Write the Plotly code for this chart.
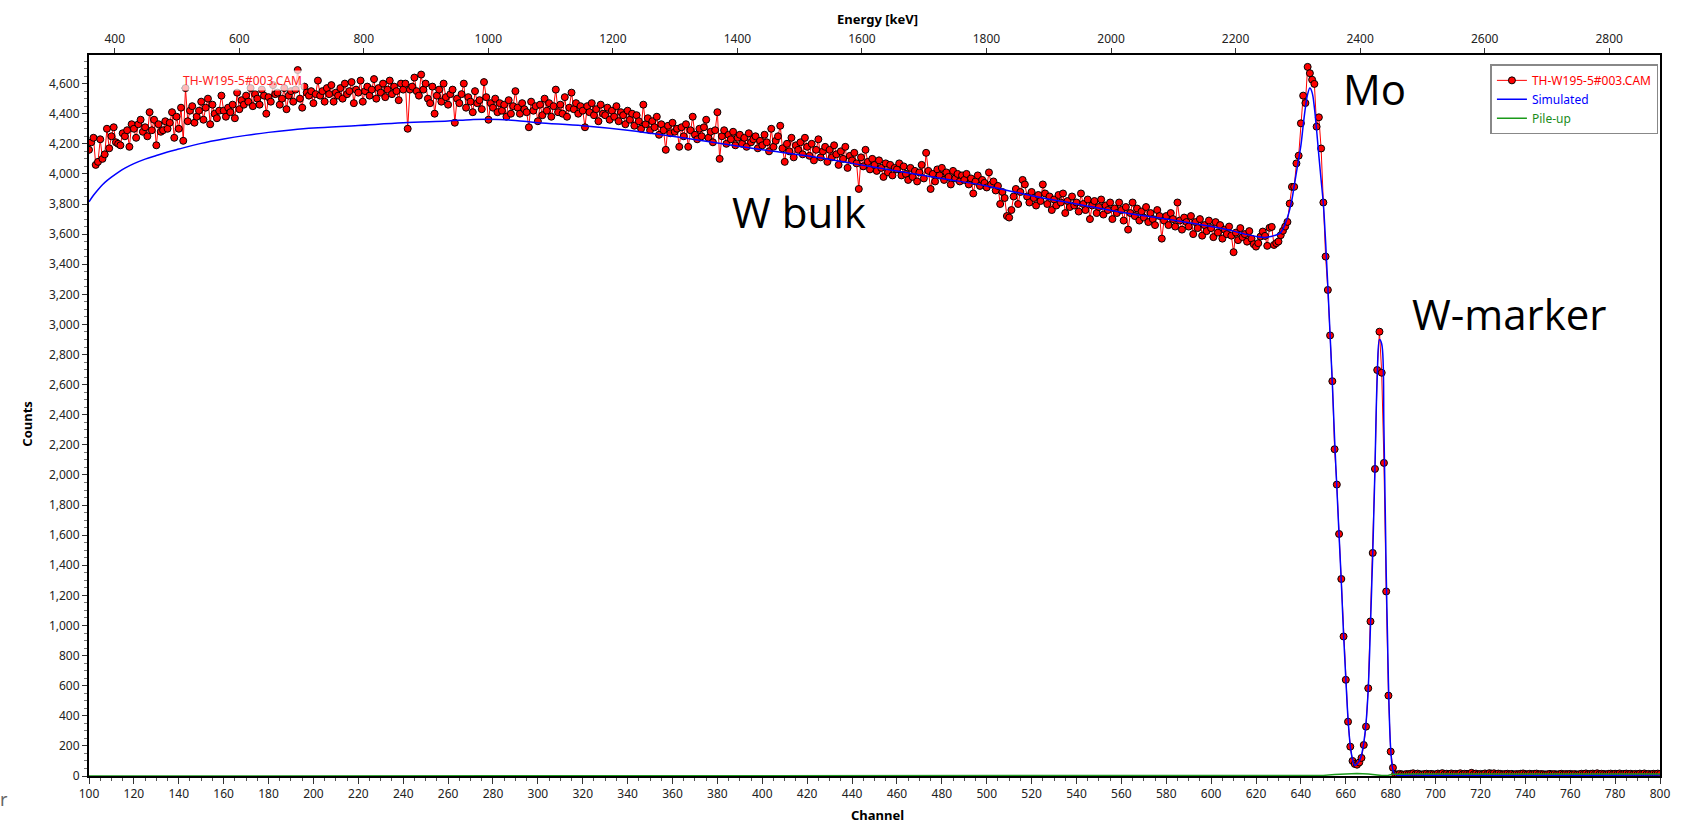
import plotly.graph_objects as go

# ---------------- data ----------------
channels = list(range(100, 801))

counts_bulk = [
    4160, 4210, 4240, 4060, 4080, 4230, 4100, 4130, 4300, 4170,
    4250, 4310, 4210, 4200, 4190, 4270, 4250, 4290, 4180, 4330,
    4300, 4240, 4330, 4360, 4280, 4310, 4250, 4410, 4290, 4360,
    4190, 4330, 4280, 4290, 4350, 4300, 4340, 4410, 4240, 4380,
    4300, 4440, 4220, 4570, 4350, 4420, 4450, 4340, 4380, 4420,
    4480, 4360, 4440, 4500, 4330, 4460, 4400, 4370, 4420, 4520,
    4420, 4380, 4440, 4410, 4460, 4370, 4540, 4430, 4490, 4460,
    4520, 4480, 4570, 4450, 4530, 4500, 4460, 4560, 4520, 4400,
    4510, 4480, 4590, 4530, 4540, 4460, 4500, 4570, 4430, 4520,
    4550, 4480, 4560, 4690, 4500, 4440, 4580, 4540, 4520, 4550,
    4470, 4530, 4620, 4520, 4550, 4480, 4570, 4530, 4590, 4480,
    4540, 4520, 4570, 4500, 4600, 4530, 4550, 4610, 4470, 4560,
    4540, 4620, 4480, 4550, 4580, 4520, 4560, 4630, 4500, 4570,
    4540, 4600, 4510, 4560, 4620, 4530, 4580, 4550, 4490, 4600,
    4560, 4600, 4300, 4560, 4580, 4640, 4550, 4520, 4660, 4560,
    4600, 4500, 4470, 4580, 4400, 4520, 4560, 4480, 4600, 4510,
    4460, 4530, 4560, 4340, 4500, 4470, 4530, 4600, 4440, 4510,
    4480, 4410, 4550, 4470, 4490, 4430, 4610, 4510, 4360, 4470,
    4440, 4500, 4410, 4470, 4420, 4460, 4380, 4490, 4400, 4450,
    4550, 4440, 4400, 4470, 4430, 4410, 4310, 4480, 4420, 4450,
    4350, 4460, 4390, 4500, 4420, 4470, 4380, 4450, 4560, 4410,
    4460, 4400, 4510, 4380, 4440, 4540, 4430, 4470, 4400, 4450,
    4420, 4310, 4450, 4410, 4470, 4390, 4430, 4350, 4460, 4400,
    4390, 4440, 4360, 4420, 4380, 4450, 4350, 4410, 4390, 4330,
    4420, 4360, 4400, 4320, 4390, 4350, 4300, 4460, 4330, 4370,
    4290, 4350, 4310, 4380, 4260, 4330, 4290, 4160, 4320, 4270,
    4340, 4280, 4300, 4180, 4310, 4250, 4330, 4180, 4290, 4380,
    4260, 4230, 4300, 4250, 4310, 4360, 4240, 4280, 4210, 4290,
    4410, 4100, 4250, 4290, 4200, 4260, 4230, 4280, 4190, 4240,
    4260, 4200, 4240, 4180, 4270, 4210, 4230, 4250, 4170, 4220,
    4190, 4260, 4210, 4150, 4300, 4180, 4220, 4250, 4320, 4170,
    4080, 4200, 4150, 4240, 4110, 4190, 4160, 4210, 4130, 4240,
    4180, 4120, 4200, 4090, 4160, 4230, 4110, 4150, 4180, 4080,
    4160, 4110, 4190, 4130, 4060, 4150, 4100, 4180, 4040, 4120,
    4090, 4140, 4070, 3900, 4110, 4050, 4160, 4080, 4030, 4100,
    4060, 4020, 4090, 4040, 3980, 4070, 4010, 4060, 3990, 4040,
    4030, 4070, 3990, 4050, 4000, 3960, 4040, 3980, 4020, 3950,
    4010, 4060, 3970, 4140, 4020, 3900, 4000, 3950, 4030, 3990,
    4040, 3960, 4010, 3980, 3930, 4020, 3970, 4000, 3950, 3990,
    3960, 4000, 3930, 3970, 3870, 3950, 3990, 3920, 3960, 3940,
    3910, 4010, 3930, 3950, 3890, 3920, 3800, 3880, 3840, 3720,
    3710, 3760, 3850, 3900, 3800, 3880, 3960, 3930, 3850, 3810,
    3880, 3840, 3790, 3860, 3820, 3930, 3870, 3800, 3850, 3760,
    3830, 3790, 3860, 3810, 3870, 3740, 3820, 3780, 3850, 3790,
    3810, 3750, 3870, 3800, 3760, 3830, 3700, 3790, 3820, 3740,
    3780, 3830, 3730, 3790, 3760, 3810, 3700, 3770, 3740, 3810,
    3760, 3690, 3780, 3630, 3740, 3810, 3720, 3770, 3690, 3750,
    3710, 3780, 3680, 3740, 3700, 3660, 3760, 3720, 3570, 3690,
    3720, 3660, 3740, 3700, 3650, 3810, 3690, 3630, 3710, 3680,
    3650, 3720, 3600, 3680, 3640, 3700, 3590, 3660, 3620, 3690,
    3640, 3580, 3680, 3610, 3660, 3570, 3630, 3600, 3650, 3590,
    3480, 3610, 3560, 3640, 3580, 3600, 3550, 3620, 3570,
]

counts_peaks = [
    3533, 3517, 3540, 3584, 3617, 3588, 3522, 3642, 3648, 3528,
    3540, 3551, 3593, 3622, 3650, 3681, 3803, 3914, 3914, 4070,
    4121, 4336, 4520, 4471, 4711, 4669, 4626, 4598, 4314, 4376,
    4169, 3810, 3451, 3229, 2927, 2623, 2171, 1936, 1608, 1309,
    927, 639, 361, 195, 100, 80, 75, 90, 120, 206,
    328, 583, 1027, 1482, 2040, 2697, 2952, 2679, 2080, 1226,
    534, 162, 55,
]

counts_tail = [
    12, 10, 14, 11, 9, 13, 12, 15,
    18, 11, 16, 12, 10, 13, 15, 11, 14, 12,
    10, 16, 13, 19, 12, 15, 11, 17, 13, 14,
    12, 18, 11, 15, 14, 13, 21, 12, 16, 11,
    14, 12, 17, 13, 19, 15, 18, 12, 16, 14,
    11, 13, 15, 12, 14, 10, 13, 12, 15, 17,
    13, 11, 15, 12, 14, 16, 11, 13, 12, 10,
    12, 14, 11, 13, 10, 12, 15, 11, 13, 12,
    14, 11, 13, 10, 12, 15, 13, 17, 12, 14,
    16, 13, 18, 12, 15, 13, 11, 14, 16, 12,
    15, 13, 17, 12, 14, 16, 13, 15, 11, 14,
    12, 16, 13, 17, 12, 14, 11, 15, 13, 16,
    13,
]

measured = counts_bulk + counts_peaks + counts_tail

sim_channels = [100, 102, 104, 106, 108, 110, 113, 116, 120, 125, 130, 135, 140, 150, 160, 170, 180,
                190, 200, 220, 240, 260, 270, 278, 290, 300, 320, 340, 360, 380, 400, 420, 440, 460,
                480, 500, 520, 540, 560, 580, 600, 610, 615, 620, 624, 628, 631, 634, 636, 637, 638,
                639, 640, 641, 642, 643, 644, 645, 646, 647, 648, 649, 650, 651, 652, 653,
                654, 655, 656, 657, 658, 659, 660, 661, 662, 663, 664, 665, 666, 667, 668,
                669, 670, 671, 672, 673, 674, 675, 676, 677, 678, 679, 680, 681, 682, 690, 800]
sim_counts = [3815, 3858, 3895, 3928, 3955, 3978, 4010, 4038, 4068, 4098, 4122, 4145, 4165, 4203,
              4232, 4256, 4276, 4292, 4305, 4322, 4340,
              4352, 4360, 4363, 4355, 4340, 4320, 4290, 4250, 4205, 4160, 4120, 4070, 4020, 3970, 3920,
              3855, 3800, 3745, 3700, 3650, 3620, 3600, 3585, 3578, 3590, 3610, 3710, 3830, 3920, 4010,
              4100, 4190, 4320, 4440, 4530, 4570, 4540, 4440, 4290, 4120, 3960, 3800, 3550, 3250, 2930,
              2610, 2240, 1920, 1600, 1290, 940, 650, 380, 200, 110, 70, 80, 100, 140, 220,
              350, 580, 1000, 1470, 2050, 2650, 2900, 2870, 2300, 1350, 620, 180, 40, 10, 6, 6]

pile_channels = [100, 600, 610, 620, 630, 640, 650, 655, 660, 665, 670, 673, 676, 679, 681, 690, 720, 760, 800]
pile_counts = [0, 0, 3, 5, 5, 3, 4, 10, 15, 16, 14, 8, 3, 5, 12, 14, 15, 13, 13]

energy_range = [358.7, 2881.6]

# ---------------- figure ----------------
FONT = "Noto Sans, Open Sans, sans-serif"
fig = go.Figure()

# invisible trace to activate the energy (top) axis
fig.add_trace(go.Scatter(x=energy_range, y=[0, 0], xaxis="x2", mode="lines",
                         line=dict(width=0), opacity=0, hoverinfo="skip", showlegend=False))

fig.add_trace(go.Scatter(
    x=channels, y=measured, mode="lines+markers",
    name="<span style='color:#ff0000'>TH-W195-5#003.CAM</span>",
    line=dict(color="#ff0000", width=1),
    marker=dict(color="#ff0000", size=7, line=dict(color="#000000", width=1)),
))
fig.add_trace(go.Scatter(
    x=sim_channels, y=sim_counts, mode="lines", line_shape="spline",
    name="<span style='color:#0000ff'>Simulated</span>",
    line=dict(color="#0000ff", width=1.5),
))
fig.add_trace(go.Scatter(
    x=pile_channels, y=pile_counts, mode="lines",
    name="<span style='color:#1a8c1a'>Pile-up</span>",
    line=dict(color="#1a9a1a", width=1.5),
))

tickfont = dict(family=FONT, size=12, color="#222222")

fig.update_layout(
    width=1681, height=824,
    margin=dict(l=89, r=21, t=55, b=48),
    paper_bgcolor="white", plot_bgcolor="white",
    showlegend=True,
    legend=dict(x=0.999, y=0.987, xanchor="right", yanchor="top",
                bgcolor="white", bordercolor="#888888", borderwidth=1.5,
                font=dict(family=FONT, size=12), itemwidth=30, tracegroupgap=0),
    xaxis=dict(range=[100, 800], autorange=False, dtick=20, tick0=0,
               showgrid=False, zeroline=False,
               showline=True, linecolor="black", linewidth=2,
               ticks="outside", ticklen=6, tickcolor="#333333", tickwidth=1,
               tickfont=tickfont,
               minor=dict(dtick=5, ticks="outside", ticklen=3, tickcolor="#555555", showgrid=False)),
    xaxis2=dict(range=energy_range, autorange=False, overlaying="x", side="top", anchor="y",
                dtick=200, tick0=0, showgrid=False, zeroline=False,
                showline=True, linecolor="black", linewidth=1.5,
                ticks="outside", ticklen=5, tickcolor="#333333",
                tickfont=tickfont),
    yaxis=dict(range=[0, 4790], autorange=False, dtick=200, tick0=0, tickformat=",d",
               showgrid=False, zeroline=False,
               showline=True, linecolor="black", linewidth=2, mirror=True,
               ticks="outside", ticklen=5, tickcolor="#333333",
               tickfont=tickfont,
               minor=dict(dtick=50, ticks="outside", ticklen=3, tickcolor="#777777", showgrid=False)),
)

annots = [
    dict(text="<b>Counts</b>", x=-0.0395, y=0.4886, textangle=-90, font=dict(size=13)),
    dict(text="<b>Channel</b>", x=0.5016, y=-0.054, font=dict(size=13)),
    dict(text="<b>Energy [keV]</b>", x=0.5016, y=1.0506, font=dict(size=13)),
    dict(text="Mo", x=0.818, y=0.9536, font=dict(size=42, family="Open Sans, sans-serif")),
    dict(text="W bulk", x=0.452, y=0.783, font=dict(size=42, family="Open Sans, sans-serif")),
    dict(text="W-marker", x=0.904, y=0.642, font=dict(size=42, family="Open Sans, sans-serif")),
    dict(text="TH-W195-5#003.CAM", x=0.0974, y=0.964, font=dict(size=12, color="#ff2020"),
         bgcolor="rgba(255,255,255,0.72)"),
    dict(text="r", x=-0.0541, y=-0.0319, font=dict(size=18, color="#666666")),
]
for a in annots:
    f = dict(family=FONT, color="black")
    f.update(a.pop("font"))
    fig.add_annotation(xref="paper", yref="paper", showarrow=False,
                       xanchor="center", yanchor="middle", font=f, **a)

fig.write_html("out.html", config={"displayModeBar": False},
               post_script="document.body.style.margin='0';document.body.style.overflow='hidden';")
